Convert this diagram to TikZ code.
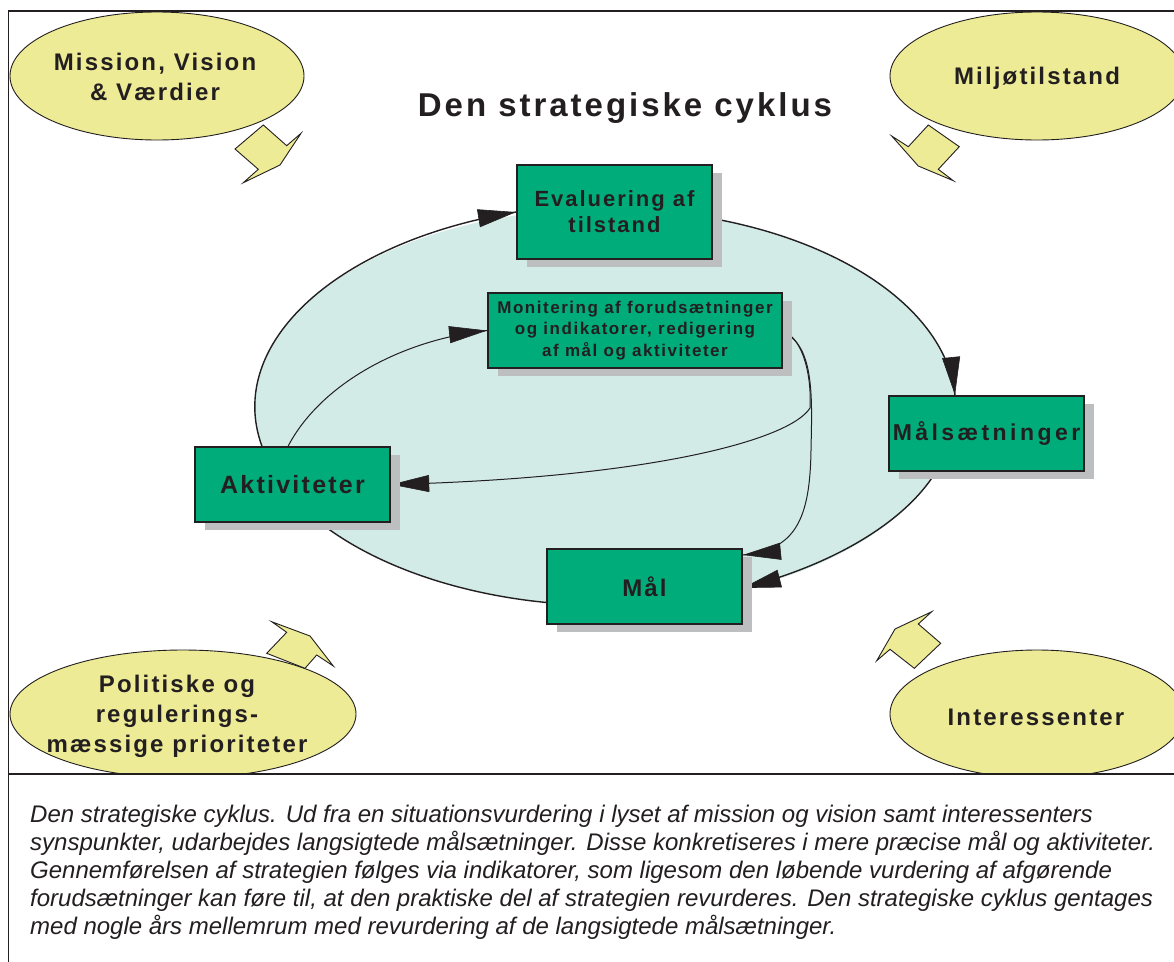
\documentclass[tikz,border=0pt]{standalone}
\usepackage{fontspec}
\setmainfont{Liberation Sans}
\newfontfamily\trackfont[LetterSpace=9]{Liberation Sans}
\newfontfamily\widetrackfont[LetterSpace=15]{Liberation Sans}
\usetikzlibrary{arrows.meta,shadows,calc,decorations.markings}

\definecolor{ink}{HTML}{231F20}
\definecolor{stagegreen}{HTML}{00AC7A}
\definecolor{shadowgray}{HTML}{BCBEC0}
\definecolor{cyclefill}{HTML}{D2EBE7}
\definecolor{sourceyellow}{HTML}{EDEB96}

\pgfdeclarelayer{paper}
\pgfdeclarelayer{back}
\pgfdeclarelayer{lines}
\pgfsetlayers{paper,back,lines,main}

\begin{document}
\begin{tikzpicture}[x=1pt,y=-1pt,
  stage/.style={draw=ink, line width=1.3pt, fill=stagegreen, inner sep=0pt,
    minimum width=195pt, minimum height=75pt, align=center, text=ink,
    drop shadow={shadow xshift=10pt, shadow yshift=-8pt, fill=shadowgray, opacity=1}},
  sourceell/.style={fill=sourceyellow, draw=ink, line width=0.9pt},
  sourcetext/.style={align=center, text=ink, inner sep=0pt,
    font=\trackfont\bfseries\fontsize{24}{30}\selectfont},
  blockarrow/.style={fill=sourceyellow, draw=ink, line width=0.9pt, line join=miter},
  % the head sits on the curve's end without bending the curve itself
  headed/.style={postaction={decorate}, decoration={markings,
    mark=at position 0.999 with {\arrow[ink, line width=0.6pt]{Triangle[length=38pt,width=#1]}}}},
  cycleedge/.style={draw=ink, line width=1.4pt, headed=18pt},
  cycleline/.style={draw=ink, line width=1.4pt},
  feedback/.style={draw=ink, line width=1pt, headed=17pt},
]
\useasboundingbox (0,0) rectangle (1174,961);
\begin{pgfonlayer}{paper}
  \fill[white] (0,0) rectangle (1174,961);
\end{pgfonlayer}

% the four outside influences
\begin{pgfonlayer}{back}
  \path[sourceell] (157,76) ellipse [x radius=147, y radius=64];
  \path[sourceell] (1037,76) ellipse [x radius=147, y radius=64];
  \path[sourceell] (183,714) ellipse [x radius=173, y radius=64];
  \path[sourceell] (1037,714) ellipse [x radius=147, y radius=64];
  % the strategic cycle itself
  \fill[cyclefill] (605,407) ellipse [x radius=350, y radius=198];
\end{pgfonlayer}

\node[sourcetext] (mission) at (155,77) {Mission, Vision\\\& Værdier};
\node[sourcetext] (miljo) at (1037,78) {Miljøtilstand};
\node[sourcetext] (politik) at (177,716) {Politiske og\\regulerings-\\mæssige prioriteter};
\node[sourcetext] (interes) at (1036,717) {Interessenter};

% block arrows pointing at the cycle
\path[blockarrow] (263.3,125) -- (286.7,145.7) -- (301,133.3) -- (280,165) -- (243.3,182.7) -- (258.3,169.3) -- (235,149) -- cycle;
\path[blockarrow] (891.7,136) -- (908.3,146.7) -- (928.3,125) -- (959.3,146.7) -- (938.3,169.3) -- (953.3,180.7) -- (918.3,166) -- cycle;
\path[blockarrow] (271.7,621.7) -- (310,636) -- (333.3,666) -- (316.7,655) -- (305,668.3) -- (266.7,653.3) -- (286.7,632.3) -- cycle;
\path[blockarrow] (931.7,611.7) -- (918.3,624) -- (940.7,643.3) -- (914.3,668.3) -- (890,649.3) -- (876.7,660.7) -- (895,629) -- cycle;

\node[text=ink, font=\trackfont\bfseries\fontsize{33}{40}\selectfont] (title) at (625,108) {Den strategiske cyklus};

% stages of the cycle
\node[stage, minimum height=94pt, font=\trackfont\bfseries\fontsize{22}{26}\selectfont] (eval) at (614.5,212) {Evaluering af\\tilstand};
\node[stage, font=\widetrackfont\bfseries\fontsize{23}{28}\selectfont] (mals) at (986.5,433.5) {Målsætninger};
\node[stage, font=\trackfont\bfseries\fontsize{24}{28}\selectfont] (mal) at (644.5,586.5) {Mål};
\node[stage, font=\trackfont\bfseries\fontsize{25}{28}\selectfont] (akt) at (292.5,484.5) {Aktiviteter};
\node[stage, minimum width=294pt, font=\trackfont\bfseries\fontsize{17}{21.5}\selectfont] (mon) at (635,330.5) {Monitering af forudsætninger\\og indikatorer, redigering\\af mål og aktiviteter};

\begin{pgfonlayer}{lines}
  \draw[cycleedge] ([xshift=-30.5pt]akt.north) .. controls (224.5,343.8) and (336.8,241.5) .. (eval.west);
  \draw[cycleedge] ([yshift=-6.5pt]eval.east) .. controls (849.9,243.5) and (946.9,314.2) .. ([xshift=-31.5pt]mals.north);
  \draw[cycleedge] ([xshift=-50.5pt]mals.south) .. controls (904.5,523.1) and (830.9,565.6) .. ([yshift=-1.5pt]mal.east);
  \draw[cycleline] ([yshift=-16pt]mal.west) .. controls (455.5,593.6) and (373.9,564.7) .. ([xshift=27.5pt]akt.south);
  \draw[feedback] ([xshift=-4.5pt]akt.north) .. controls (320,385) and (400,340) .. (mon.west);
  \draw[feedback] ([yshift=-1.5pt]mon.east) .. controls (800,335) and (812,370) .. (810,408) .. controls (790,440) and (650,478) .. (akt.east);
  \draw[feedback] ([yshift=-1.5pt]mon.east) .. controls (815,345) and (812,400) .. (811,450) .. controls (810,520) and (795,550) .. ([yshift=31.5pt]mal.east);
\end{pgfonlayer}

% caption panel
\fill[white] (8.5,774) rectangle (1185,975);
\node[anchor=north west, align=left, inner sep=0pt, text=ink,
  font=\fontsize{24}{28}\selectfont\itshape] (caption) at (30,805)
  {Den strategiske cyklus. Ud fra en situationsvurdering i lyset af mission og vision samt interessenters\\
   synspunkter, udarbejdes langsigtede målsætninger. Disse konkretiseres i mere præcise mål og aktiviteter.\\
   Gennemførelsen af strategien følges via indikatorer, som ligesom den løbende vurdering af afgørende\\
   forudsætninger kan føre til, at den praktiske del af strategien revurderes. Den strategiske cyklus gentages\\
   med nogle års mellemrum med revurdering af de langsigtede målsætninger.};

% frame
\draw[ink, line width=1.5pt] (8.5,11) rectangle (1185,975);
\draw[ink, line width=1.5pt] (8.5,774) -- (1185,774);
\end{tikzpicture}
\end{document}
